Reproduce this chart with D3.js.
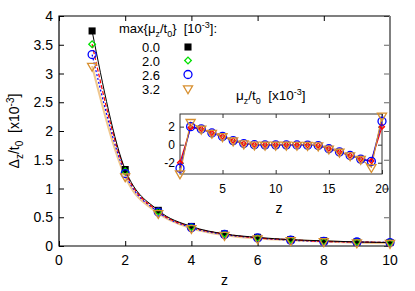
<!DOCTYPE html>
<html>
<head>
<meta charset="utf-8">
<script src="https://cdn.jsdelivr.net/npm/d3@7"></script>
<style>
  body { margin: 0; background: #fff; }
  svg { font-family: "Liberation Sans", Arial, sans-serif; }
</style>
</head>
<body>
<div id="chart"></div>
<script>
// ==============================
// Data
// ==============================
var zMain = [1, 2, 3, 4, 5, 6, 7, 8, 9, 10];
var delta00 = [3.74, 1.33, 0.62, 0.34, 0.21, 0.15, 0.11, 0.09, 0.07, 0.06];
var delta20 = [3.51, 1.30, 0.60, 0.33, 0.21, 0.14, 0.11, 0.08, 0.07, 0.06];
var delta26 = [3.33, 1.26, 0.59, 0.32, 0.20, 0.14, 0.10, 0.08, 0.07, 0.06];
var delta32 = [3.13, 1.21, 0.57, 0.31, 0.19, 0.13, 0.10, 0.08, 0.06, 0.05];
var legendLabels = ["0.0", "2.0", "2.6", "3.2"];

var zInset = [1, 2, 3, 4, 5, 6, 7, 8, 9, 10, 11, 12, 13, 14, 15, 16, 17, 18, 19, 20];
var mu20 = [-2.0, 1.9, 1.75, 1.3, 0.92, 0.45, 0.12, 0.0, -0.02, -0.02, -0.02, -0.03, -0.05, -0.1, -0.45, -0.8, -1.2, -1.6, -1.8, 2.0];
var mu26 = [-2.6, 2.0, 1.75, 1.3, 0.92, 0.45, 0.12, 0.0, -0.02, -0.02, -0.02, -0.03, -0.05, -0.1, -0.45, -0.8, -1.2, -1.6, -1.85, 2.6];
var mu32 = [-3.2, 2.5, 1.75, 1.3, 0.92, 0.45, 0.12, 0.0, -0.02, -0.02, -0.02, -0.03, -0.05, -0.1, -0.45, -0.8, -1.2, -1.6, -2.5, 3.2];

var xTicksMain = [0, 2, 4, 6, 8, 10];
var yTicksMain = [0, 0.5, 1, 1.5, 2, 2.5, 3, 3.5, 4];
var xTicksInset = [5, 10, 15, 20];
var yTicksInset = [-2, 0, 2];

var sp2 = "\u00a0\u00a0";

// ==============================
// Setup SVG
// ==============================
var svg = d3.select("#chart").append("svg")
  .attr("width", 415).attr("height", 291);

var pLeft = 59, pRight = 390, pTop = 16, pBottom = 246;

var x = d3.scaleLinear().domain([0, 10]).range([pLeft, pRight]);
var y = d3.scaleLinear().domain([0, 4]).range([pBottom, pTop]);

// tick marks (inside, on all four sides)
var g = svg.append("g");
g.append("g").attr("transform", `translate(0,${pBottom})`)
  .call(d3.axisBottom(x).tickValues(xTicksMain).tickSizeInner(-5).tickSizeOuter(0).tickFormat(""))
  .call(a => a.select(".domain").remove());
g.append("g").attr("transform", `translate(0,${pTop})`)
  .call(d3.axisTop(x).tickValues(xTicksMain).tickSizeInner(-5).tickSizeOuter(0).tickFormat(""))
  .call(a => a.select(".domain").remove());
g.append("g").attr("transform", `translate(${pLeft},0)`)
  .call(d3.axisLeft(y).tickValues(yTicksMain).tickSizeInner(-5).tickSizeOuter(0).tickFormat(""))
  .call(a => a.select(".domain").remove());
g.append("g").attr("transform", `translate(${pRight},0)`)
  .call(d3.axisRight(y).tickValues(yTicksMain).tickSizeInner(-6).tickSizeOuter(0).tickFormat(""))
  .call(a => a.select(".domain").remove())
  .selectAll("line").attr("stroke", "#666");

// tick labels
svg.append("g").selectAll("text").data(xTicksMain).enter().append("text")
  .attr("x", d => x(d)).attr("y", pBottom + 19)
  .attr("text-anchor", "middle").attr("font-size", 14).text(d => d);
svg.append("g").selectAll("text").data(yTicksMain).enter().append("text")
  .attr("x", pLeft - 6).attr("y", d => y(d) + 5)
  .attr("text-anchor", "end").attr("font-size", 14).text(d => d);

// border
svg.append("path")
  .attr("d", `M${pRight},${pTop} H${pLeft} V${pBottom} H${pRight}`)
  .attr("fill", "none").attr("stroke", "#000").attr("stroke-width", 1.2);
svg.append("line")
  .attr("x1", pRight).attr("x2", pRight).attr("y1", pTop).attr("y2", pBottom)
  .attr("stroke", "#808080").attr("stroke-width", 2);

// axis labels
svg.append("text").attr("x", (pLeft + pRight) / 2).attr("y", 285)
  .attr("text-anchor", "middle").attr("font-size", 14).text("z");

var yl = svg.append("text")
  .attr("transform", `translate(19,${(pTop + pBottom) / 2}) rotate(-90)`)
  .attr("text-anchor", "middle").attr("font-size", 14);
yl.append("tspan").text("Δ");
yl.append("tspan").attr("dy", 4).attr("font-size", 10).text("z");
yl.append("tspan").attr("dy", -4).text("/t");
yl.append("tspan").attr("dy", 4).attr("font-size", 10).text("0");
yl.append("tspan").attr("dy", -4).text(sp2 + "[x10");
yl.append("tspan").attr("dy", -5).attr("font-size", 10).text("-3");
yl.append("tspan").attr("dy", 5).text("]");

// ==============================
// Main curves
// ==============================
var line = d3.line().x(d => x(d[0])).y(d => y(d[1])).curve(d3.curveMonotoneX);
function pairs(xs, ys) { return xs.map((v, i) => [v, ys[i]]); }

var mainSeries = [
  {data: delta32, stroke: "#f0c890", width: 2.2, dash: null},
  {data: delta26, stroke: "#0000ff", width: 1.2, dash: "2,2"},
  {data: delta20, stroke: "#ff0000", width: 1.2, dash: "4,2"},
  {data: delta00, stroke: "#000000", width: 1, dash: null}
];
mainSeries.forEach(function(s) {
  svg.append("path").datum(pairs(zMain, s.data))
    .attr("d", line).attr("fill", "none")
    .attr("stroke", s.stroke).attr("stroke-width", s.width)
    .attr("stroke-dasharray", s.dash);
});

// markers
var sym = {
  square: d3.symbol().type(d3.symbolSquare).size(50),
  diamond: d3.symbol().type(d3.symbolSquare).size(22),
  circle: d3.symbol().type(d3.symbolCircle).size(50),
  tri: d3.symbol().type(d3.symbolTriangle).size(36)
};
var markerStyles = [
  {path: sym.square, fill: "#000", stroke: "none", rot: 0},
  {path: sym.diamond, fill: "none", stroke: "#00e000", rot: 45},
  {path: sym.circle, fill: "none", stroke: "#0000ff", rot: 0},
  {path: sym.tri, fill: "none", stroke: "#d89030", rot: 180}
];
function drawMarkers(parent, xs, ys, st, sx, sy) {
  parent.append("g").selectAll("path").data(pairs(xs, ys)).enter().append("path")
    .attr("d", st.path)
    .attr("transform", d => `translate(${sx(d[0])},${sy(d[1])}) rotate(${st.rot})`)
    .attr("fill", st.fill).attr("stroke", st.stroke).attr("stroke-width", 1.3);
}
[delta00, delta20, delta26, delta32].forEach(function(ys, i) {
  drawMarkers(svg, zMain, ys, markerStyles[i], x, y);
});

// legend
var lt = svg.append("text").attr("x", 119).attr("y", 33).attr("font-size", 13);
lt.append("tspan").text("max{μ");
lt.append("tspan").attr("dy", 4).attr("font-size", 9).text("z");
lt.append("tspan").attr("dy", -4).text("/t");
lt.append("tspan").attr("dy", 4).attr("font-size", 9).text("0");
lt.append("tspan").attr("dy", -4).text("}" + sp2 + "[10");
lt.append("tspan").attr("dy", -5).attr("font-size", 9).text("-3");
lt.append("tspan").attr("dy", 5).text("]:");

var legendY = [47, 60.5, 74.5, 88.5];
legendLabels.forEach(function(lab, i) {
  svg.append("text").attr("x", 160).attr("y", legendY[i] + 5)
    .attr("text-anchor", "end").attr("font-size", 13).text(lab);
  svg.append("path").attr("d", markerStyles[i].path)
    .attr("transform", `translate(188,${legendY[i]}) rotate(${markerStyles[i].rot})`)
    .attr("fill", markerStyles[i].fill).attr("stroke", markerStyles[i].stroke)
    .attr("stroke-width", 1.3);
});

// ==============================
// Inset
// ==============================
var iL = 180, iR = 382, iT = 114, iB = 174;
var xi = d3.scaleLinear().domain([1, 20]).range([iL, iR]);
var yi = d3.scaleLinear().domain([-3.25, 3.4]).range([iB, iT]);

svg.append("rect").attr("x", iL).attr("y", iT).attr("width", iR - iL).attr("height", iB - iT)
  .attr("fill", "#fff").attr("stroke", "#333").attr("stroke-width", 1);

var gi = svg.append("g").attr("color", "#333");
gi.append("g").attr("transform", `translate(0,${iB})`)
  .call(d3.axisBottom(xi).tickValues(xTicksInset).tickSizeInner(-4).tickSizeOuter(0).tickFormat(""))
  .call(a => a.select(".domain").remove());
gi.append("g").attr("transform", `translate(0,${iT})`)
  .call(d3.axisTop(xi).tickValues(xTicksInset).tickSizeInner(-4).tickSizeOuter(0).tickFormat(""))
  .call(a => a.select(".domain").remove());
gi.append("g").attr("transform", `translate(${iL},0)`)
  .call(d3.axisLeft(yi).tickValues(yTicksInset).tickSizeInner(-4).tickSizeOuter(0).tickFormat(""))
  .call(a => a.select(".domain").remove());
gi.append("g").attr("transform", `translate(${iR},0)`)
  .call(d3.axisRight(yi).tickValues(yTicksInset).tickSizeInner(-4).tickSizeOuter(0).tickFormat(""))
  .call(a => a.select(".domain").remove());

svg.append("g").selectAll("text").data(xTicksInset).enter().append("text")
  .attr("x", d => xi(d)).attr("y", iB + 19)
  .attr("text-anchor", "middle").attr("font-size", 12).text(d => d);
svg.append("g").selectAll("text").data(yTicksInset).enter().append("text")
  .attr("x", iL - 5).attr("y", d => yi(d) + 4)
  .attr("text-anchor", "end").attr("font-size", 12).text(d => d);

svg.append("text").attr("x", (iL + iR) / 2 - 2).attr("y", 213)
  .attr("text-anchor", "middle").attr("font-size", 14).text("z");

var it = svg.append("text").attr("x", 236).attr("y", 100).attr("font-size", 13.5);
it.append("tspan").text("μ");
it.append("tspan").attr("dy", 4).attr("font-size", 9).text("z");
it.append("tspan").attr("dy", -4).text("/t");
it.append("tspan").attr("dy", 4).attr("font-size", 9).text("0");
it.append("tspan").attr("dy", -4).text(sp2 + "[x10");
it.append("tspan").attr("dy", -5).attr("font-size", 9).text("-3");
it.append("tspan").attr("dy", 5).text("]");

var lineI = d3.line().x(d => xi(d[0])).y(d => yi(d[1]));
var insetSeries = [
  {data: mu20, stroke: "#ff0000", st: {path: d3.symbol().type(d3.symbolSquare).size(12), fill: "none", stroke: "#ff0000", rot: 45}},
  {data: mu26, stroke: "#0000ff", st: {path: sym.circle, fill: "none", stroke: "#0000ff", rot: 0}},
  {data: mu32, stroke: "#d89030", st: {path: sym.tri, fill: "none", stroke: "#d89030", rot: 180}}
];
insetSeries.forEach(function(s) {
  svg.append("path").datum(pairs(zInset, s.data))
    .attr("d", lineI).attr("fill", "none")
    .attr("stroke", s.stroke).attr("stroke-width", 1.2);
});
insetSeries.forEach(function(s) {
  drawMarkers(svg, zInset, s.data, s.st, xi, yi);
});
</script>
</body>
</html>
